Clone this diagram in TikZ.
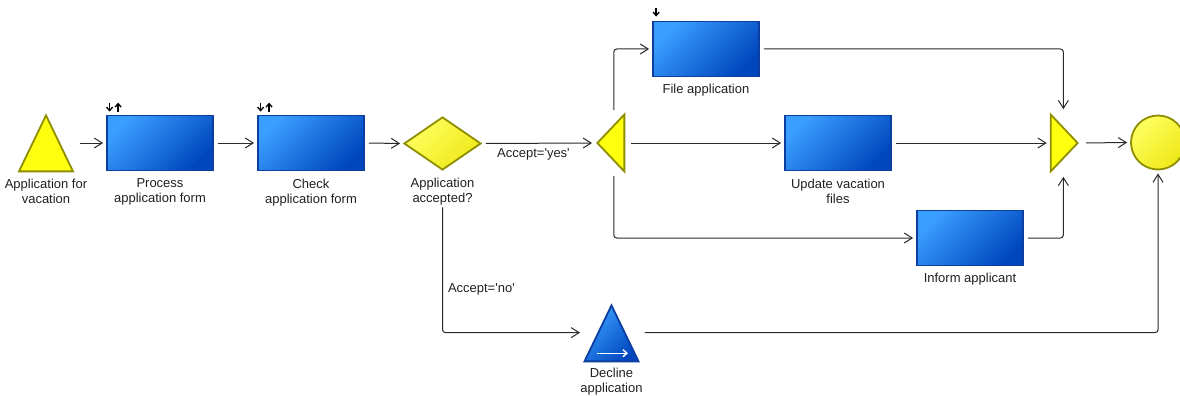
\documentclass[tikz,border=0pt]{standalone}
\usepackage{fontspec}
\setmainfont{Liberation Sans}
\usepackage{tikz}
\usetikzlibrary{positioning,arrows.meta,shapes.geometric,calc}
\usepackage{xcolor}
\definecolor{blueLight}{HTML}{3A9EFF}
\definecolor{blueDark}{HTML}{0047BE}
\definecolor{blueBorder}{HTML}{0B3E9E}
\definecolor{yellowMain}{HTML}{FFFF10}
\definecolor{yellowLight}{HTML}{FFFF60}
\definecolor{yellowDark}{HTML}{EEE818}
\definecolor{oliveBorder}{HTML}{8E8E00}
\definecolor{lineGray}{HTML}{2A2A2A}
\definecolor{textGray}{HTML}{202020}

\begin{document}
\begin{tikzpicture}[x=1pt, y=-1pt,
    funcBox/.style={rectangle, draw=blueBorder, line width=1.8pt, inner sep=0pt, minimum width=106pt, minimum height=55pt, top color=blueLight, bottom color=blueDark, shading angle=45},
    eventTri/.style={isosceles triangle, isosceles triangle stretches, shape border rotate=90, inner sep=0pt, minimum width=54pt, minimum height=56pt, line width=1.8pt},
    opTri/.style={isosceles triangle, isosceles triangle stretches, inner sep=0pt, minimum width=57pt, minimum height=27pt, draw=oliveBorder, line width=1.8pt, fill=yellowMain},
    decisionBox/.style={diamond, draw=oliveBorder, line width=1.8pt, inner sep=0pt, minimum width=77pt, minimum height=53pt, top color=yellowLight, bottom color=yellowDark, shading angle=45},
    endEvent/.style={circle, draw=oliveBorder, line width=1.8pt, inner sep=0pt, minimum size=54pt, top color=yellowLight, bottom color=yellowDark, shading angle=45},
    caption/.style={font=\fontsize{13}{15}\selectfont, text=textGray, align=center, inner sep=0pt},
    flow/.style={draw=lineGray, line width=1pt, rounded corners=3pt, shorten >=3pt, shorten <=4pt, -{Straight Barb[length=8pt, width=10pt]}},
    iconArrow/.style={line width=1.3pt, -{Straight Barb[length=3.5pt, width=6pt]}}
]
    \useasboundingbox (0,0) rectangle (1180,396);

    % Main row
    \node[eventTri, draw=oliveBorder, fill=yellowMain, anchor=apex] (vacation) at (46,113) {};
    \node[funcBox] (procForm) at (160,143) {};
    \node[funcBox] (checkForm) at (311,143) {};
    \node[decisionBox] (accepted) at (442.5,143.5) {};
    \node[opTri, shape border rotate=180, anchor=apex] (split) at (595,143) {};
    \node[funcBox] (fileApp) at (706,49) {};
    \node[funcBox] (updFiles) at (838,143) {};
    \node[funcBox] (informApp) at (970,238) {};
    \node[opTri, anchor=apex] (join) at (1080,143) {};
    \node[endEvent] (done) at (1158,142.5) {};
    \node[eventTri, draw=blueBorder, top color=blueLight, bottom color=blueDark, shading angle=45, anchor=apex] (decline) at (611.5,303) {};

    % Captions
    \node[caption, below=7pt of vacation] (vacationLbl) {Application for\\vacation};
    \node[caption, below=7pt of procForm] (procFormLbl) {Process\\application form};
    \node[caption, below=7pt of checkForm] (checkFormLbl) {Check\\application form};
    \node[caption, below=7pt of accepted] (acceptedLbl) {Application\\accepted?};
    \node[caption, below=6pt of fileApp] (fileAppLbl) {File application};
    \node[caption, below=7pt of updFiles] (updFilesLbl) {Update vacation\\files};
    \node[caption, below=6pt of informApp] (informAppLbl) {Inform applicant};
    \node[caption, below=6pt of decline] (declineLbl) {Decline\\application};

    % Small input/output marks
    \draw[iconArrow] ([xshift=3.5pt]procForm.north west) ++(0,-12) -- ++(0,9);
    \draw[iconArrow] ([xshift=12pt]procForm.north west) ++(0,-3) -- ++(0,-9);
    \draw[iconArrow] ([xshift=3.5pt]checkForm.north west) ++(0,-12) -- ++(0,9);
    \draw[iconArrow] ([xshift=12pt]checkForm.north west) ++(0,-3) -- ++(0,-9);
    \draw[iconArrow] ([xshift=4pt]fileApp.north west) ++(0,-13) -- ++(0,9);
    \draw[white, line width=1.4pt, -{Straight Barb[length=4pt, width=7pt]}] ($(decline.lower side)+(-14.5,-9)$) -- ++(31,0);

    % Helper points on the triangles
    \coordinate (splitMid) at ($(split.apex)!0.62!(split.lower side)$);
    \coordinate (joinMid) at ($(join.lower side)!0.45!(join.apex)$);
    \coordinate (declineMid) at ($(decline.apex)!0.5!(decline.lower side)$);

    % Connectors
    \draw[flow, shorten <=6pt] (vacation.right corner |- procForm.west) -- (procForm.west);
    \draw[flow] (procForm.east) -- (checkForm.west);
    \draw[flow] (checkForm.east) -- (accepted.west);
    \draw[flow] (accepted.east) -- (split.apex) node[caption, midway, below=5pt, xshift=-5pt] {Accept=\textquotesingle yes\textquotesingle};
    \draw[flow, shorten <=2pt] (splitMid |- split.right corner) |- (fileApp.west);
    \draw[flow, shorten <=6pt] (split.lower side) -- (updFiles.west);
    \draw[flow, shorten <=2pt] (splitMid |- split.left corner) |- (informApp.west);
    \draw[flow] (fileApp.east) -| (joinMid |- join.left corner);
    \draw[flow] (updFiles.east) -- (join.lower side);
    \draw[flow] (informApp.east) -| (joinMid |- join.right corner);
    \draw[flow, shorten <=6pt] (join.apex) -- (done.west);
    \draw[flow, shorten <=2pt] (acceptedLbl.south) |- (decline.left corner |- declineMid) node[caption, pos=0.33, anchor=west, xshift=5pt] {Accept=\textquotesingle no\textquotesingle};
    \draw[flow, shorten <=5pt] (decline.right corner |- declineMid) -| (done.south);
\end{tikzpicture}
\end{document}
